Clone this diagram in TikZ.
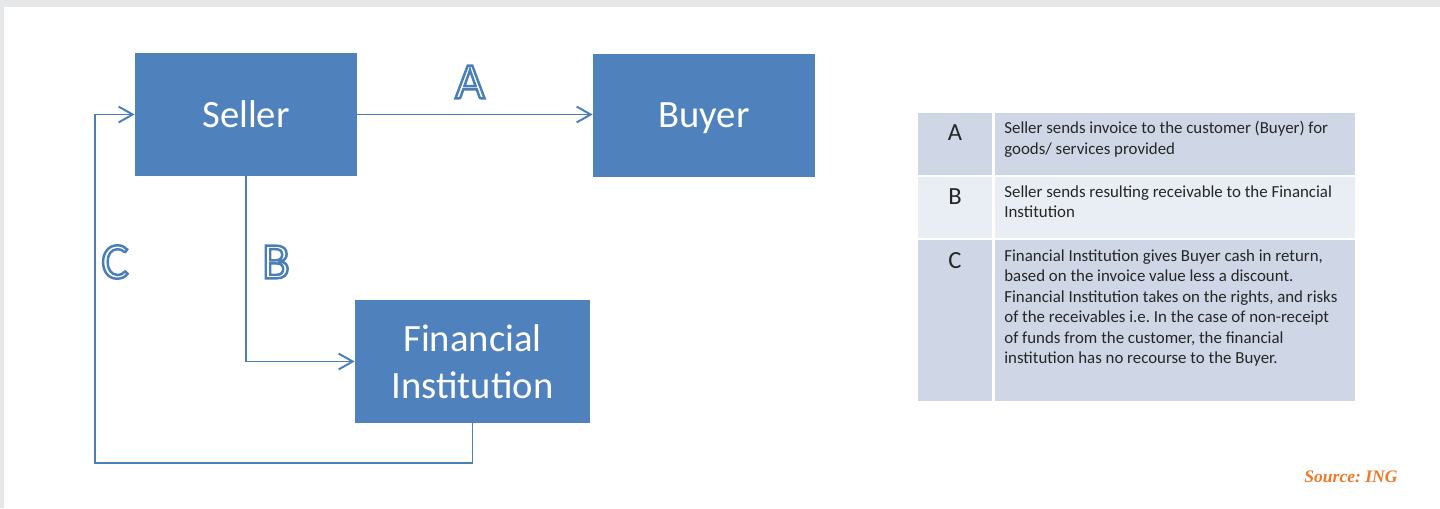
\documentclass[tikz,border=0pt]{standalone}
\usepackage{fontspec}
\setmainfont{Carlito}
\newfontfamily\srcfont{Liberation Serif}
\usetikzlibrary{arrows.meta}
\frenchspacing

\definecolor{boxblue}{HTML}{4F81BD}
\definecolor{lineblue}{HTML}{4A7EBB}
\definecolor{rowdark}{HTML}{CFD7E7}
\definecolor{rowlight}{HTML}{E9EDF4}
\definecolor{pagegray}{HTML}{E6E7E8}
\definecolor{srcorange}{HTML}{F07A28}

% white letter with a blue rim (fill and stroke text mode)
\newcommand{\rimtext}[1]{%
  \special{pdf:literal direct 2 Tr 1.4 w 0.290 0.494 0.733 RG}#1\special{pdf:literal direct 0 Tr}}

\begin{document}
\begin{tikzpicture}[x=0.02cm, y=-0.02cm,
    box/.style={fill=boxblue, text=white, minimum width=4.44cm, minimum height=2.46cm,
      inner sep=0pt, align=center, font=\fontsize{22}{27}\selectfont},
    arr/.style={draw=lineblue, line width=1.1pt, -{Straight Barb[length=8pt,width=9pt]}},
    flowlabel/.style={text=white, font=\fontsize{29}{29}\selectfont},
    keytext/.style={text=black!85, font=\fontsize{14}{16}\selectfont},
    rowtext/.style={anchor=north west, inner sep=0pt, align=left, text=black!85,
      font=\fontsize{9.6}{11.7}\selectfont}]
        \fill[pagegray] (0,0) rectangle (1440,508);
        \fill[white] (4,7) rectangle (1440,508);
        \useasboundingbox (0,0) rectangle (1440,508);

        \node[box] (seller) at (246,114.5) {Seller};
        \node[box, text depth=0pt] (buyer) at (704,115.5) {Buyer};
        \node[box, minimum width=4.7cm] (fin) at (472.5,361.5) {Financial\\Institution};
        \coordinate (cfoot) at (95,463);

        \draw[arr] (seller) -- (seller -| buyer.west);
        \draw[arr] (seller.south) |- (fin.west);
        \draw[arr] (fin.south) |- (cfoot) |- (seller.west);

        \node[flowlabel] (labA) at (470,82) {\rimtext{A}};
        \node[flowlabel] (labB) at (276,262) {\rimtext{B}};
        \node[flowlabel] (labC) at (115,262) {\rimtext{C}};

        % key table
        \fill[rowdark] (918,113) rectangle (992,175);
        \fill[rowdark] (995,113) rectangle (1355,175);
        \fill[rowlight] (918,177) rectangle (992,238);
        \fill[rowlight] (995,177) rectangle (1355,238);
        \fill[rowdark] (918,240) rectangle (992,401);
        \fill[rowdark] (995,240) rectangle (1355,401);

        \node[keytext] (keyA) at (955,133) {A};
        \node[keytext] (keyB) at (955,197) {B};
        \node[keytext] (keyC) at (955,261) {C};
        \node[rowtext] (txtA) at (1004,121) {Seller sends invoice to the customer (Buyer) for\\goods/ services provided};
        \node[rowtext] (txtB) at (1004,185) {Seller sends resulting receivable to the Financial\\Institution};
        \node[rowtext] (txtC) at (1004,249) {Financial Institution gives Buyer cash in return,\\based on the invoice value less a discount.\\Financial Institution takes on the rights, and risks\\of the receivables i.e. In the case of non-receipt\\of funds from the customer, the financial\\institution has no recourse to the Buyer.};

        \node[text=srcorange, font=\srcfont\bfseries\itshape\fontsize{10}{12}\selectfont] (src) at (1351,477) {Source: ING};
    \end{tikzpicture}
\end{document}
